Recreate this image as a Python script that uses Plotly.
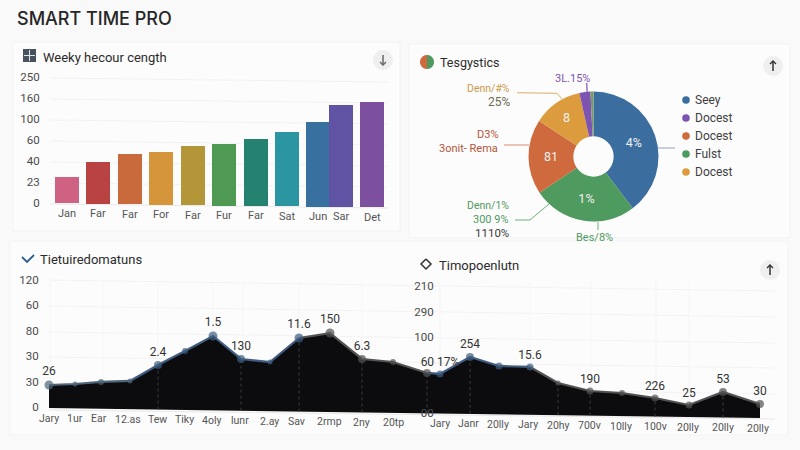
import numpy as np
import plotly.graph_objects as go

W, H = 800, 450
FONT = "Roboto"
TITLE_FONT = "Inter"
INK = "#2b2b2b"
MUTED = "#3f3f3f"

# Weekly bars
bar_labels = ["Jan", "Far", "Far", "For", "Far", "Fur", "Far", "Sat", "Jun", "Sar", "Det"]
bar_values = [25, 39, 47, 49, 54, 56, 61, 68, 77, 93, 96]
bar_floor = [-0.4, -0.8, -1.2, -1.6, -2.0, -2.4, -2.8, -3.2, -3.5, -3.8, -4.2]
bar_slots = [66.5, 98, 129.5, 161, 192.5, 224, 255.5, 287, 317.5, 341, 372]
bar_colors = ["#cf6282", "#b94242", "#c96a3c", "#d5953a", "#b39637", "#4f9a52",
              "#258270", "#2b96a2", "#38709f", "#6153a3", "#7d509f"]
bar_ticks = [0, 20, 40, 60, 80, 100, 120]
bar_ticktext = ["0", "23", "40", "60", "100", "160", "250"]

# Share of time
pie_names = ["Seey", "Fulst", "Docest", "Docest", "Docest", "Other"]
pie_shares = [39.7, 25.9, 18.6, 12.3, 2.75, 0.75]
pie_text = ["4%", "1%", "81", "8", "", ""]
pie_colors = ["#3b6e9f", "#4f9a5f", "#cf6a3f", "#dc9c3d", "#7d55b0", "#7a9a6a"]
legend_names = ["Seey", "Docest", "Docest", "Fulst", "Docest"]
legend_colors = ["#3b6e9f", "#7d55b0", "#cf6a3f", "#4f9a5f", "#dc9c3d"]

# Continuous time line
line_slots = [49, 75, 101, 130, 158, 185, 213, 241, 270, 299, 330, 362, 393,
              427, 440, 470, 499, 530, 558, 590, 622, 655, 689, 723, 760]
line_values = [17.3, 18.1, 19.7, 20.5, 33.1, 44.1, 55.9, 37.8, 35.4, 54.3, 58.2, 37.8, 35.4,
               26.8, 26.0, 39.4, 32.3, 31.5, 18.9, 12.6, 11.0, 7.1, 1.6, 11.8, 2.4]
line_floor = [-0.8, -1.1, -1.4, -1.7, -2.0, -2.3, -2.6, -2.9, -3.3, -3.6, -3.9, -4.3, -4.6,
              -5.0, -5.1, -5.4, -5.8, -6.1, -6.4, -6.8, -7.1, -7.5, -7.9, -8.3, -8.7]
line_text = ["26", "", "", "", "2.4", "", "1.5", "130", "", "11.6", "150", "6.3", "",
             "", "60 17%", "254", "", "15.6", "", "190", "", "226", "25", "53", "30"]
line_sizes = [9, 5, 6, 5, 8, 6, 9, 8, 5, 9, 9, 8, 6, 8, 7, 8, 7, 7, 5, 7, 6, 7, 7, 8, 8]
line_ticks = [49, 75, 99, 128, 157, 184, 211, 240, 269, 296, 329, 361, 393,
              440, 468, 498, 528, 558, 589, 621, 655, 688, 723, 758]
line_ticktext = ["Jary", "1ur", "Ear", "12.as", "Tew", "Tiky", "4oly", "lunr", "2.ay", "Sav",
                 "2rmp", "2ny", "20tp", "Jary", "Janr", "20lly", "Jary", "20hy", "700v",
                 "10lly", "100v", "20lly", "20lly", "20lly"]
left_ticks = [0, 20, 40, 60, 80, 100]
left_ticktext = ["0", "30", "30", "80", "60", "120"]
right_ticks = [-4.7, 55, 75, 95]
right_ticktext = ["00", "100", "290", "210"]
BLUE, GREY = "#3f5c80", "#525252"
line_runs = [(0, 4, "#4f6478"), (3, 10, BLUE), (9, 14, GREY), (13, 18, BLUE), (17, 25, GREY)]


def px(x):
    return x / W


def py(y):
    return 1 - y / H


def dom(top, bottom):
    return [py(bottom), py(top)]


def rule(x0, y0, x1, y1, color, width=1, dash="solid", layer="above"):
    return dict(type="line", xref="paper", yref="paper", x0=px(x0), y0=py(y0), x1=px(x1), y1=py(y1),
                line=dict(color=color, width=width, dash=dash), layer=layer)


def polyline(points, color, width=1):
    path = "M " + " L ".join(f"{px(x):.5f},{py(y):.5f}" for x, y in points)
    return dict(type="path", xref="paper", yref="paper", path=path,
                line=dict(color=color, width=width), layer="above")


def disc(cx, cy, r, color):
    return dict(type="circle", xref="paper", yref="paper", x0=px(cx - r), x1=px(cx + r),
                y0=py(cy + r), y1=py(cy - r), fillcolor=color, line=dict(width=0), layer="above")


def half_disc(cx, cy, r, start, color):
    angles = np.linspace(start, start + np.pi, 24)
    pts = " L ".join(f"{px(cx + r * np.cos(a)):.5f},{py(cy + r * np.sin(a)):.5f}" for a in angles)
    return dict(type="path", xref="paper", yref="paper", path=f"M {pts} Z",
                fillcolor=color, line=dict(width=0), layer="above")


def card(x0, y0, x1, y1):
    return dict(type="rect", xref="paper", yref="paper", x0=px(x0), x1=px(x1), y0=py(y1), y1=py(y0),
                fillcolor="#fcfcfc", line=dict(color="#f3f3f3", width=1), layer="below")


def button(cx, cy, direction, color):
    # Round header button holding a small vertical arrow
    tip = cy + 5 * direction
    return [
        disc(cx, cy, 10, "#efefef"),
        rule(cx, cy - 5 * direction, cx, tip, color, 1.5),
        polyline([(cx - 3, tip - 3 * direction), (cx, tip), (cx + 3, tip - 3 * direction)], color, 1.3),
    ]


def label(x, y, text, size=12, color=MUTED, anchor="left", weight=400, family=FONT):
    return dict(xref="paper", yref="paper", x=px(x), y=py(y), text=text, showarrow=False,
                xanchor=anchor, yanchor="middle", font=dict(family=family, size=size, color=color, weight=weight))


fig = go.Figure()

# Bars sit on a slightly sloping floor, so each height is measured from its own base
fig.add_bar(x=bar_slots, y=[v - f for v, f in zip(bar_values, bar_floor)], base=bar_floor,
            width=24, marker=dict(color=bar_colors, line=dict(width=0)),
            xaxis="x", yaxis="y", showlegend=False, hoverinfo="skip")

fig.add_pie(labels=[f"{n} {i}" for i, n in enumerate(pie_names)], values=pie_shares, text=pie_text,
            textinfo="text", textposition="inside", insidetextorientation="horizontal",
            textfont=dict(family=FONT, size=12.5, color="#f0f0f0"),
            sort=False, direction="clockwise", rotation=0, hole=0.31,
            marker=dict(colors=pie_colors, line=dict(width=0)),
            domain=dict(x=[px(528.5), px(658.5)], y=[py(221.5), py(91.5)]),
            showlegend=False, hoverinfo="skip")

# Area under the time line, filled down to the sloping floor
fig.add_scatter(x=line_slots, y=line_floor, mode="lines", line=dict(width=0),
                xaxis="x", yaxis="y2", showlegend=False, hoverinfo="skip")
fig.add_scatter(x=line_slots, y=line_values, mode="lines", line=dict(width=0), fill="tonexty",
                fillcolor="#0c0c0e", xaxis="x", yaxis="y2", showlegend=False, hoverinfo="skip")

# Dashed droplines inside the area
for i in (4, 7, 9, 11, 13, 15, 18, 19, 21, 23):
    fig.add_scatter(x=[line_slots[i], line_slots[i]], y=[line_floor[i], line_values[i]], mode="lines",
                    line=dict(color="#3a3a3c", width=1, dash="3px,3px"),
                    xaxis="x", yaxis="y2", showlegend=False, hoverinfo="skip")

for start, stop, color in line_runs:
    fig.add_scatter(x=line_slots[start:stop], y=line_values[start:stop], mode="lines",
                    line=dict(color=color, width=2.2), xaxis="x", yaxis="y2",
                    showlegend=False, hoverinfo="skip")

marker_colors = []
for i in range(len(line_values)):
    marker_colors.append(next(c for s, e, c in line_runs if s <= i < e))
fig.add_scatter(x=line_slots, y=line_values, mode="markers+text", text=line_text,
                textposition="top center", cliponaxis=False,
                textfont=dict(family=FONT, size=12, color="#333333"),
                marker=dict(size=line_sizes, color=marker_colors, line=dict(width=0)),
                xaxis="x", yaxis="y2", showlegend=False, hoverinfo="skip")

# Carries the second chart's scale over the same time line
fig.add_scatter(x=[line_slots[0]], y=[line_values[0]], mode="markers", marker=dict(opacity=0),
                xaxis="x", yaxis="y3", showlegend=False, hoverinfo="skip")

shapes = [card(13, 42, 400, 231), card(409, 44, 790, 238), card(10, 241, 788, 435)]

# Very gently sloping gridlines
for y0 in (78, 99, 120, 141, 162, 183):
    shapes.append(rule(50, y0, 388, y0 + 4, "#f2f2f2", layer="below"))
for y0 in (280, 306, 332, 357, 383):
    shapes.append(rule(49, y0, 775, y0 + 11, "#f3f3f3", layer="below"))
for x0 in (50, 103, 158, 213, 243, 299, 362, 440, 530, 591, 656, 689):
    shapes.append(rule(x0, 282, x0, 410, "#f5f5f5", layer="below"))
shapes.append(rule(50, 204, 388, 208, "#e8e8e8", layer="below"))
shapes.append(rule(49, 410, 775, 419, "#e8e8e8", layer="below"))

# Pie leader lines
shapes += [
    polyline([(517, 92.7), (557, 93.3), (562, 99)], "#dcae62"),
    polyline([(586.7, 83), (588, 110)], "#7d55b0", 1.2),
    polyline([(504, 145), (529, 145)], "#d98a6a"),
    polyline([(515, 220), (530, 220), (549, 204)], "#6fae7e"),
    polyline([(598, 222), (598, 230)], "#6fae7e"),
    polyline([(658, 148), (675, 148)], "#8fa3b8"),
]

# Header buttons and icons
shapes += button(383, 60, 1, "#666666") + button(773, 66, -1, "#333333") + button(770, 270, -1, "#333333")
shapes.append(dict(type="rect", xref="paper", yref="paper", x0=px(23), x1=px(36), y0=py(62), y1=py(49),
                   fillcolor="#46535f", line=dict(width=0), layer="above"))
shapes.append(rule(29.5, 50, 29.5, 61, "#dfe3e6", 1))
shapes.append(rule(24, 55.5, 35, 55.5, "#dfe3e6", 1))
shapes += [half_disc(427, 62, 7, np.pi / 2, "#cf6a3f"), half_disc(427, 62, 7, -np.pi / 2, "#4f9a5f")]
shapes.append(polyline([(22, 257), (27, 262), (34, 255)], "#2f5f8f", 1.8))
shapes.append(polyline([(426, 259), (431, 264), (426, 269), (421, 264), (426, 259)], "#333333", 1.5))

# Legend markers
legend_rows = [100, 118, 136, 154, 172]
for row, color in zip(legend_rows, legend_colors):
    shapes.append(disc(686, row, 3.8, color))

notes = [
    label(14.5, 18, "SMART TIME PRO", 18, "#262626", weight=500, family=TITLE_FONT),
    label(40.5, 57, "Weeky hecour cength", 13, INK),
    label(437.5, 62, "Tesgystics", 12.5, INK),
    label(37.5, 259, "Tietuiredomatuns", 13, INK),
    label(436.5, 265, "Timopoenlutn", 13, INK),
    # Pie callouts
    label(512, 88, "Denn/#%", 10.5, "#c99a4a", "right"),
    label(512, 102, "25%", 12, "#6f6a52", "right"),
    label(572, 78, "3L.15%", 11, "#7d55b0", "center"),
    label(500, 134.5, "D3%", 11, "#b5553a", "right"),
    label(500, 148, "3onit- Rema", 11, "#b5553a", "right"),
    label(511, 205.5, "Denn/1%", 10.5, "#4f9a5f", "right"),
    label(511, 219, "300 9%", 11, "#4f9a5f", "right"),
    label(511, 233, "1110%", 11.5, "#3a3a3a", "right"),
    label(594, 237.5, "Bes/8%", 11, "#4f9a5f", "center"),
]
for row, name in zip(legend_rows, legend_names):
    notes.append(label(692.5, row, name, 12, MUTED))

# Category labels follow the floor of each chart
for slot, floor, name in zip(bar_slots, bar_floor, bar_labels):
    notes.append(dict(x=slot, y=floor, xref="x", yref="y", text=name, showarrow=False, yshift=-10,
                      yanchor="middle", font=dict(family=FONT, size=11, color="#555555")))
tick_floor = np.interp(line_ticks, line_slots, line_floor)
for slot, floor, name in zip(line_ticks, tick_floor, line_ticktext):
    notes.append(dict(x=slot, y=float(floor), xref="x", yref="y2", text=name, showarrow=False, yshift=-10,
                      yanchor="middle", font=dict(family=FONT, size=10.5, color="#555555")))

tick_font = dict(family=FONT, size=11.5, color="#4a4a4a")
fig.update_layout(
    width=W, height=H, margin=dict(l=0, r=0, t=0, b=0), autosize=False,
    paper_bgcolor="#f9f9f9", plot_bgcolor="rgba(0,0,0,0)",
    shapes=shapes, annotations=notes, bargap=0,
    xaxis=dict(domain=[0, 1], range=[0, W], visible=False, fixedrange=True),
    yaxis=dict(domain=dom(60, 215), range=[(203 - 215) * 20 / 21, (203 - 60) * 20 / 21],
               anchor="free", position=px(49), tickvals=bar_ticks, ticktext=bar_ticktext,
               tickfont=tick_font, ticks="outside", ticklen=7, tickcolor="rgba(0,0,0,0)",
               showgrid=False, zeroline=False, showline=False),
    yaxis2=dict(domain=dom(270, 430), range=[(407 - 430) * 0.787, (407 - 270) * 0.787],
                anchor="free", position=px(46), tickvals=left_ticks, ticktext=left_ticktext,
                tickfont=tick_font, ticks="outside", ticklen=5, tickcolor="rgba(0,0,0,0)",
                showgrid=False, zeroline=False, showline=False),
    yaxis3=dict(domain=dom(270, 430), range=[(407 - 430) * 0.787, (407 - 270) * 0.787],
                anchor="free", position=px(441), overlaying="y2", tickvals=right_ticks,
                ticktext=right_ticktext, tickfont=tick_font, ticks="outside", ticklen=5,
                tickcolor="rgba(0,0,0,0)", showgrid=False, zeroline=False, showline=False),
)

fig.write_html("out.html")
